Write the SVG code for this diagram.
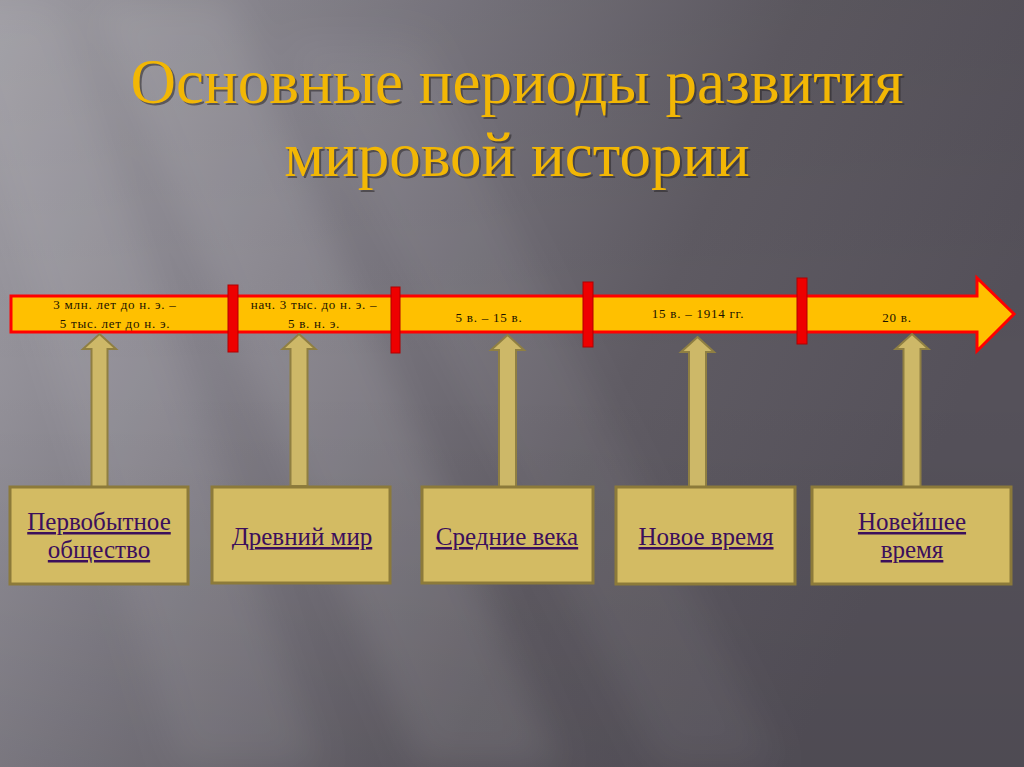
<svg xmlns="http://www.w3.org/2000/svg" width="1024" height="767" viewBox="0 0 1024 767">
  <defs>
    <linearGradient id="bg" x1="0" y1="0" x2="1" y2="0.35">
      <stop offset="0" stop-color="#a3a1a8"/>
      <stop offset="0.35" stop-color="#807d86"/>
      <stop offset="0.7" stop-color="#5f5b63"/>
      <stop offset="1" stop-color="#55515a"/>
    </linearGradient>
    <linearGradient id="shade" x1="0" y1="0" x2="0" y2="1">
      <stop offset="0" stop-color="#000" stop-opacity="0.05"/>
      <stop offset="0.5" stop-color="#000" stop-opacity="0"/>
      <stop offset="1" stop-color="#000" stop-opacity="0.08"/>
    </linearGradient>
    <filter id="blur" x="-20%" y="-20%" width="140%" height="140%">
      <feGaussianBlur stdDeviation="18"/>
    </filter>
    <style>
      .title { font-family: "Liberation Serif", "Times New Roman", serif; font-size: 63px; text-anchor: middle; }
      .tl { font-family: "Liberation Serif", "Times New Roman", serif; font-size: 13px; letter-spacing: 0.75px; fill: #1a1200; text-anchor: middle; }
      .box { fill: #d3bb63; stroke: #8c7a3a; stroke-width: 3; }
      .lbl { font-family: "Liberation Serif", "Times New Roman", serif; font-size: 25px; fill: #3b0f5c; text-anchor: middle; text-decoration: underline; }
      .up { fill: #cdb868; stroke: #8f7f42; stroke-width: 2; }
      .mark { fill: #ee0000; stroke: #b00000; stroke-width: 1; }
    </style>
  </defs>

  <!-- background -->
  <rect x="0" y="0" width="1024" height="767" fill="url(#bg)"/>
  <g filter="url(#blur)" fill="#ffffff">
    <polygon points="90,0 230,0 560,767 420,767" opacity="0.10"/>
    <polygon points="-60,0 60,0 320,767 180,767" opacity="0.08"/>
    <polygon points="280,40 420,40 780,767 660,767" opacity="0.06"/>
  </g>
  <rect x="0" y="0" width="1024" height="767" fill="url(#shade)"/>

  <!-- title -->
  <g id="title">
    <text class="title" x="519" y="105" fill="#2a2628" fill-opacity="0.55">Основные периоды развития</text>
    <text class="title" x="519" y="178" fill="#2a2628" fill-opacity="0.55">мировой истории</text>
    <text class="title" x="517" y="103" fill="#f2b705">Основные периоды развития</text>
    <text class="title" x="517" y="176" fill="#f2b705">мировой истории</text>
  </g>

  <!-- timeline -->
  <g id="timeline">
    <polygon points="11,296 977,296 977,278 1014,314 977,351 977,332 11,332" fill="#ffc000" stroke="#ff0000" stroke-width="3" stroke-linejoin="miter"/>
    <rect class="mark" x="228" y="285" width="10" height="67"/>
    <rect class="mark" x="391" y="287" width="9" height="66"/>
    <rect class="mark" x="583" y="282" width="10" height="65"/>
    <rect class="mark" x="797" y="278" width="10" height="66"/>
    <text class="tl" x="115" y="309">3 млн. лет до н. э. –</text>
    <text class="tl" x="115" y="328">5 тыс. лет до н. э.</text>
    <text class="tl" x="314" y="309">нач. 3 тыс. до н. э. –</text>
    <text class="tl" x="314" y="328">5 в. н. э.</text>
    <text class="tl" x="489" y="322">5 в. – 15 в.</text>
    <text class="tl" x="698" y="318">15 в. – 1914 гг.</text>
    <text class="tl" x="897" y="322">20 в.</text>
  </g>

  <!-- connectors -->
  <g id="connectors">
    <polygon class="up" points="99.5,334 116,349 107.5,349 107.5,487 91.5,487 91.5,349 83,349"/>
    <polygon class="up" points="299,334 315.5,349 307.5,349 307.5,486 290.5,486 290.5,349 282.5,349"/>
    <polygon class="up" points="507.5,335 524,350 516,350 516,488 499,488 499,350 491,350"/>
    <polygon class="up" points="697.5,337 714,352 706,352 706,490 689,490 689,352 681,352"/>
    <polygon class="up" points="912,334 928.5,349 920.5,349 920.5,487 903.5,487 903.5,349 895.5,349"/>
  </g>

  <!-- nodes -->
  <g id="node-primitive">
    <rect class="box" x="10" y="487" width="178" height="97"/>
    <text class="lbl" x="99" y="530">Первобытное</text>
    <text class="lbl" x="99" y="558">общество</text>
  </g>
  <g id="node-ancient">
    <rect class="box" x="212" y="487" width="178" height="96"/>
    <text class="lbl" x="302" y="545">Древний мир</text>
  </g>
  <g id="node-middle">
    <rect class="box" x="422" y="487" width="171" height="96"/>
    <text class="lbl" x="507" y="545">Средние века</text>
  </g>
  <g id="node-modern">
    <rect class="box" x="616" y="487" width="179" height="97"/>
    <text class="lbl" x="706" y="545">Новое время</text>
  </g>
  <g id="node-contemporary">
    <rect class="box" x="812" y="487" width="199" height="97"/>
    <text class="lbl" x="912" y="530">Новейшее</text>
    <text class="lbl" x="912" y="558">время</text>
  </g>
</svg>
